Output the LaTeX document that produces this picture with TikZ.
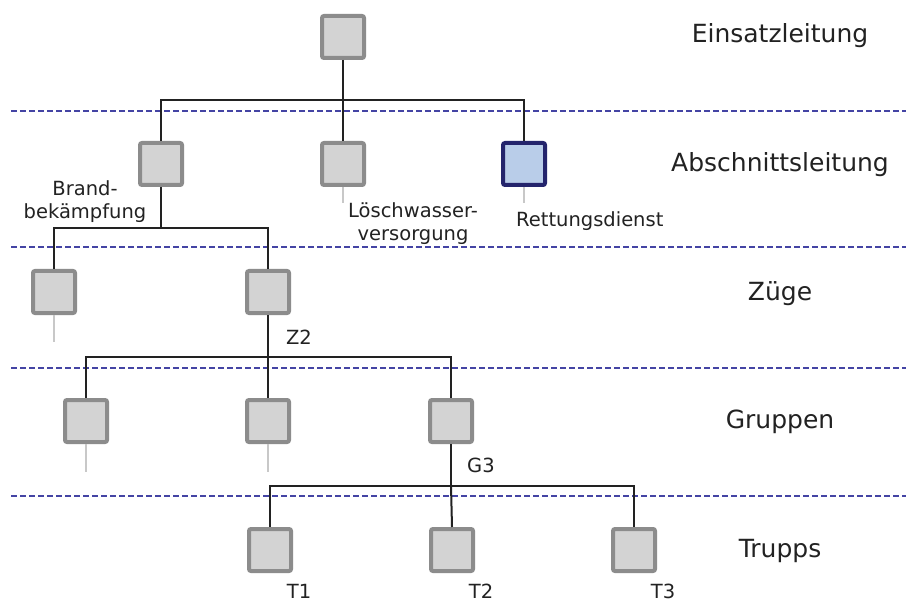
\documentclass[tikz,border=0pt]{standalone}
\usepackage{fontspec}
\setmainfont{DejaVu Sans}
\begin{document}
\begin{tikzpicture}[x=1pt,y=-1pt,
  unit/.style={draw=boxgrey,fill=boxfill,line width=4pt,rounded corners=2pt,
    minimum size=42pt,inner sep=0pt},
  rescue/.style={unit,draw=navy,fill=lightblue},
  link/.style={draw=linkcol,line width=2pt},
  stub/.style={draw=stubgrey,line width=2pt},
  level/.style={draw=dashblue,line width=2pt,dash pattern=on 6pt off 3pt},
  levellabel/.style={font=\fontsize{25}{30}\selectfont,text=txt,inner sep=0pt,anchor=base},
  tag/.style={font=\fontsize{19.5}{23}\selectfont,text=txt,inner sep=0pt}
]
\definecolor{boxgrey}{HTML}{8C8C8C}
\definecolor{boxfill}{HTML}{D3D3D3}
\definecolor{navy}{HTML}{24246C}
\definecolor{lightblue}{HTML}{B9CDE9}
\definecolor{linkcol}{HTML}{222222}
\definecolor{stubgrey}{HTML}{C8C8C8}
\definecolor{dashblue}{HTML}{4444A4}
\definecolor{txt}{HTML}{222222}

\useasboundingbox[fill=white] (0,0) rectangle (909,601);

% level separators
\coordinate (l1a) at (11,111);  \coordinate (l1b) at (906,111);
\coordinate (l2a) at (11,247);  \coordinate (l2b) at (906,247);
\coordinate (l3a) at (11,367.5);\coordinate (l3b) at (906,367.5);
\coordinate (l4a) at (11,495.5);\coordinate (l4b) at (906,495.5);
\draw[level] (l1a) -- (l1b);
\draw[level] (l2a) -- (l2b);
\draw[level] (l3a) -- (l3b);
\draw[level] (l4a) -- (l4b);

% units
\node[unit] (E) at (343,37) {};
\node[unit] (A1) at (161,164) {};
\node[unit] (A2) at (343,164) {};
\node[rescue] (A3) at (524,164) {};
\node[unit] (Z1) at (54,292) {};
\node[unit] (Z2) at (268,292) {};
\node[unit] (G1) at (86,421) {};
\node[unit] (G2) at (268,421) {};
\node[unit] (G3) at (451,421) {};
\node[unit] (T1) at (270,550) {};
\node[unit] (T2) at (452,550) {};
\node[unit] (T3) at (634,550) {};

% bus heights
\coordinate (bus1) at (0,100);
\coordinate (bus2) at (0,228);
\coordinate (bus3) at (0,357);
\coordinate (bus4) at (0,486);

% command links
\draw[link] (E.south) -- (E.south |- bus1) -| (A1.north);
\draw[link] (E.south |- bus1) -| (A3.north);
\draw[link] (E.south |- bus1) -- (A2.north);

\draw[link] (A1.south) -- (A1.south |- bus2) -| (Z1.north);
\draw[link] (A1.south |- bus2) -| (Z2.north);

\draw[link] (Z2.south) -- (Z2.south |- bus3) -| (G1.north);
\draw[link] (Z2.south |- bus3) -| (G3.north);
\draw[link] (Z2.south |- bus3) -- (G2.north);

\draw[link] (G3.south) -- (G3.south |- bus4) -| (T1.north);
\draw[link] (G3.south |- bus4) -| (T3.north);
\draw[link] (G3.south |- bus4) -- (T2.north);

% open branches
\draw[stub] (A2.south) -- ++(0,16);
\draw[stub] (A3.south) -- ++(0,16);
\draw[stub] (Z1.south) -- ++(0,27);
\draw[stub] (G1.south) -- ++(0,28);
\draw[stub] (G2.south) -- ++(0,28);

% level names
\node[levellabel] (nE) at (780,43) {Einsatzleitung};
\node[levellabel] (nA) at (780,172) {Abschnittsleitung};
\node[levellabel] (nZ) at (780,301) {Züge};
\node[levellabel] (nG) at (780,428) {Gruppen};
\node[levellabel] (nT) at (780,557) {Trupps};

% unit names
\node[tag,align=center,anchor=north] (tA1) at (85,180) {Brand-\\bekämpfung};
\node[tag,align=center,anchor=north] (tA2) at (413,202.5) {Löschwasser-\\versorgung};
\node[tag,anchor=base west] (tA3) at (516,227) {Rettungsdienst};
\node[tag,anchor=base] (tZ2) at (299,344) {Z2};
\node[tag,anchor=base] (tG3) at (481,472) {G3};
\node[tag,anchor=base] (tT1) at (299,598) {T1};
\node[tag,anchor=base] (tT2) at (481,598) {T2};
\node[tag,anchor=base] (tT3) at (663,598) {T3};
\end{tikzpicture}
\end{document}
